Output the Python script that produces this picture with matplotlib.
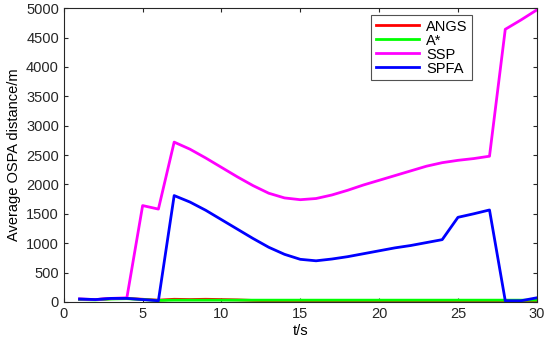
import numpy as np
import matplotlib
matplotlib.use("Agg")
import matplotlib.pyplot as plt
from matplotlib.ticker import MultipleLocator

# ── Data ──────────────────────────────────────────────────────────────────────
t = np.arange(1, 31)

angs = [45, 40, 55, 60, 45, 30, 45, 40, 45, 40, 35, 25, 20, 15, 15,
        15, 15, 15, 15, 15, 15, 15, 15, 15, 15, 15, 15, 15, 15, 15]
astar = [40, 35, 50, 55, 40, 25, 30, 30, 30, 30, 30, 30, 30, 30, 30,
         30, 30, 30, 30, 30, 30, 30, 30, 30, 30, 30, 30, 30, 30, 30]
ssp = [50, 40, 60, 70, 1640, 1580, 2720, 2600, 2450, 2290, 2130, 1980, 1850, 1770, 1740,
       1760, 1820, 1900, 1990, 2070, 2150, 2230, 2310, 2370, 2410, 2440, 2480, 4640, 4800, 4970]
spfa = [50, 40, 60, 60, 40, 20, 1810, 1700, 1560, 1400, 1240, 1080, 930, 810, 725,
        700, 730, 770, 820, 870, 920, 960, 1010, 1060, 1440, 1500, 1565, 20, 20, 70]

series = [("ANGS", angs, "#ff0000"),
          ("A*", astar, "#00ff00"),
          ("SSP", ssp, "#ff00ff"),
          ("SPFA", spfa, "#0000ff")]

plt.rcParams["font.family"] = ["Liberation Sans", "DejaVu Sans"]

fig = plt.figure(figsize=(5.5, 3.4), dpi=100)
ax = fig.add_axes([0.116, 0.112, 0.86, 0.864])

for name, vals, col in series:
    ax.plot(t, vals, color=col, lw=2, label=name)

ax.set_xlim(0, 30)
ax.set_ylim(0, 5000)
ax.xaxis.set_major_locator(MultipleLocator(5))
ax.yaxis.set_major_locator(MultipleLocator(500))
ax.tick_params(direction="in", top=True, right=True, labelsize=10.5, length=3, colors="#262626")
for s in ax.spines.values():
    s.set_color("#262626")
    s.set_linewidth(0.8)

ax.set_xlabel("t/s", fontsize=10.5, labelpad=2)
ax.set_ylabel("Average OSPA distance/m", fontsize=10.5, labelpad=4)

leg = ax.legend(loc="upper left", bbox_to_anchor=(0.650, 0.976), fontsize=10.5,
                fancybox=False, edgecolor="#262626", handlelength=3.0,
                borderpad=0.3, labelspacing=0.0, handletextpad=0.45, borderaxespad=0)
leg.get_frame().set_linewidth(0.8)

fig.savefig("out.png", dpi=100)
